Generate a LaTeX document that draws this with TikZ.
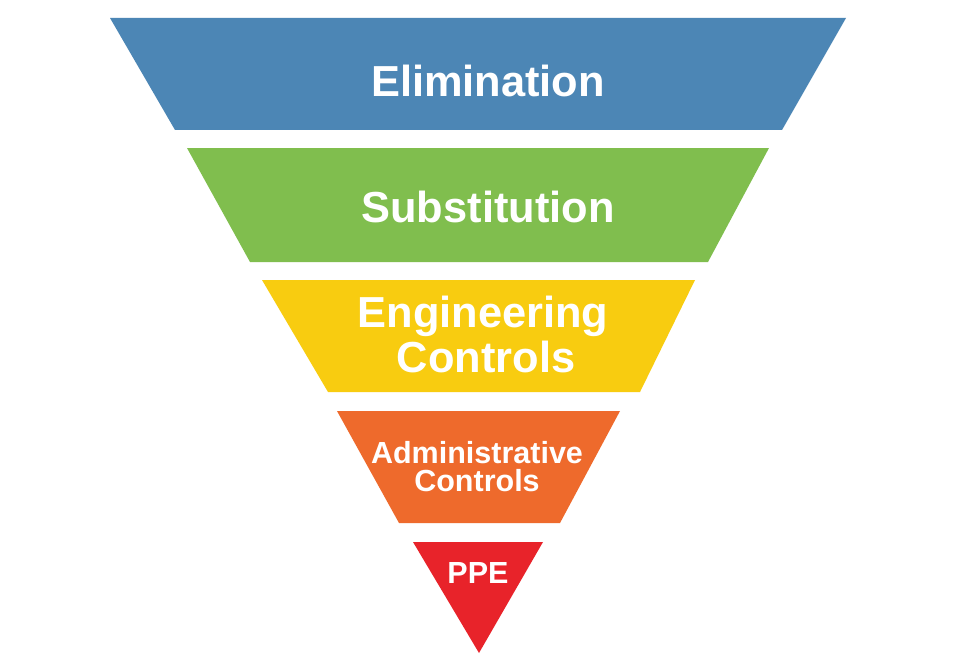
\documentclass[tikz,border=0pt]{standalone}
\usepackage{fontspec}
\setmainfont{Liberation Sans}
\definecolor{cblue}{HTML}{4C86B5}
\definecolor{cgreen}{HTML}{80BE4E}
\definecolor{cyellow}{HTML}{F8CC10}
\definecolor{corange}{HTML}{EE6A2C}
\definecolor{cred}{HTML}{E8232A}
\begin{document}
\begin{tikzpicture}[x=1pt,y=-1pt,
  big/.style={text=white,inner sep=0pt,anchor=base,font=\fontsize{43.4}{44}\selectfont\bfseries},
  small/.style={text=white,inner sep=0pt,anchor=base,font=\fontsize{30.5}{31}\selectfont\bfseries}]
\fill[white] (0,0) rectangle (974,666);
\useasboundingbox (0,0) rectangle (974,666);
\fill[cblue] (110,18) -- (846,18) -- (782,130) -- (175,130) -- cycle;
\fill[cgreen] (187,148) -- (769,148) -- (708,262) -- (250,262) -- cycle;
\fill[cyellow] (262,280) -- (695,280) -- (640,392) -- (328,392) -- cycle;
\fill[corange] (337,411) -- (620,411) -- (560,523) -- (399,523) -- cycle;
\fill[cred] (413,542) -- (543,542) -- (479,653) -- cycle;
\node[big] (elim) at (488,97) {Elimination};
\node[big] (subst) at (488,222) {Substitution};
\node[big] (eng) at (483,327) {Engineering};
\node[big] (engc) at (486,372) {Controls};
\node[small] (admin) at (477,463) {Administrative};
\node[small] (adminc) at (477,491) {Controls};
\node[small] (ppe) at (478,583) {PPE};
\end{tikzpicture}
\end{document}
